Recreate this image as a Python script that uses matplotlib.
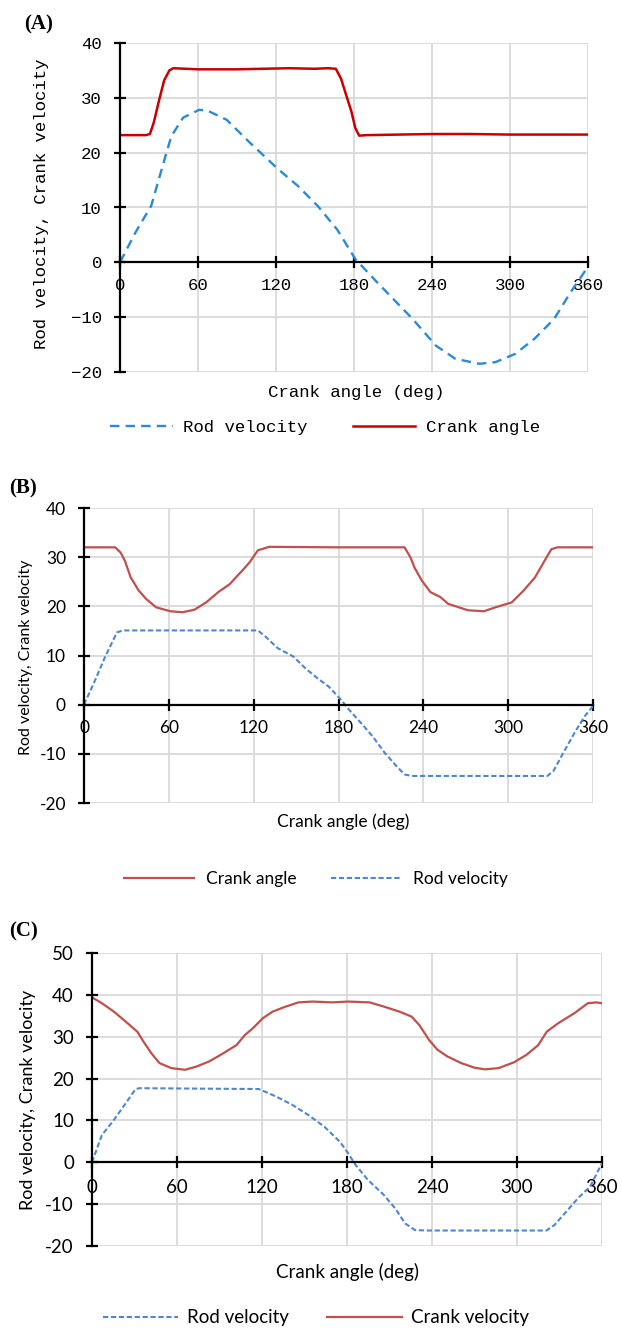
import matplotlib
matplotlib.use("Agg")
import matplotlib.pyplot as plt

# ---- data ----
# (A)
a_rod_deg = [0, 12, 24, 35, 39.5, 48.6, 60.8, 67, 82, 100, 121.6, 137, 152, 167, 181,
             197.6, 225, 243, 258, 276.6, 288.8, 304, 319, 334, 346.5, 360]
a_rod_val = [0, 5.5, 10.3, 19.4, 23, 26.4, 27.8, 27.7, 26, 21.8, 17, 13.9, 10.3, 6, 0.6,
             -3.6, -10.3, -15.2, -17.6, -18.5, -18.2, -16.7, -13.9, -10.3, -5.5, -0.8]
a_crank_deg = [0, 10, 20, 23, 26, 30, 34, 38, 41, 60, 90, 110, 130, 150, 160, 166,
               170, 174, 178, 181, 184, 190, 240, 270, 300, 330, 360]
a_crank_val = [23.2, 23.2, 23.2, 23.4, 25.5, 29.5, 33.2, 35.0, 35.4, 35.2, 35.2, 35.3,
               35.4, 35.3, 35.4, 35.3, 33.5, 30.5, 27.5, 24.5, 23.1, 23.2, 23.4, 23.4,
               23.3, 23.3, 23.3]

# (B)
b_crank_deg = [0, 22, 26, 29, 33, 38.7, 44, 51, 61, 69.6, 78, 86.4, 95, 103, 111.7, 117,
               123, 131, 180, 226.7, 231, 233.7, 239, 245, 252, 257.6, 271.6, 282.8,
               291, 302.5, 310.9, 319, 325, 330.5, 334.7, 360]
b_crank_val = [32, 32, 30.9, 29.2, 25.9, 23.2, 21.5, 19.8, 19, 18.8, 19.3, 20.8, 22.9,
               24.5, 27.2, 28.9, 31.4, 32.1, 32, 32, 29.9, 27.9, 25.2, 22.9, 21.9, 20.5,
               19.2, 19, 19.8, 20.8, 23.2, 25.9, 28.9, 31.6, 32, 32]
b_rod_deg = [0, 7.9, 14.9, 23.3, 27.5, 123, 128.5, 137, 148, 156.6, 165, 173, 181.8,
             187.4, 195.8, 204, 212.7, 221, 226.7, 232, 327.7, 332, 339, 347, 354, 360]
b_rod_val = [0, 5, 9.7, 14.7, 15.1, 15.1, 13.8, 11.5, 9.8, 7.4, 5.4, 3.7, 1, -1, -3.7,
             -6.4, -9.8, -12.5, -14.2, -14.5, -14.5, -13.5, -9.8, -5.7, -2.4, -0.3]

# (C)
c_crank_deg = [0, 7, 15.4, 23.8, 32, 36.4, 42, 47.6, 56, 65.8, 74, 82.7, 91, 102, 107.9,
               113.5, 120.5, 127.5, 135.9, 145.7, 155.5, 169.5, 180.7, 196, 206, 217,
               225.6, 231, 238, 243.8, 250.8, 260.6, 270, 277.4, 287, 298, 306.8, 315,
               321, 329, 340.4, 350, 356, 360]
c_crank_val = [39.4, 38, 36, 33.6, 31.2, 28.8, 26, 23.7, 22.5, 22.1, 22.9, 24.1, 25.7,
               28, 30.4, 32, 34.4, 36, 37.1, 38.2, 38.4, 38.2, 38.4, 38.2, 37.2, 36,
               34.8, 32.8, 29.2, 26.9, 25.3, 23.7, 22.6, 22.2, 22.5, 23.9, 25.7, 28,
               31.2, 33.2, 35.6, 38, 38.2, 38]
c_rod_deg = [0, 7, 15.4, 23.8, 30.8, 33.6, 117.7, 120.5, 130, 141.5, 152.7, 164, 175,
             180.7, 186, 194.7, 206, 214, 221, 228, 236.8, 320.8, 326.4, 334.8, 343,
             351.6, 360]
c_rod_val = [0, 6.5, 10.1, 14.1, 17.5, 17.7, 17.5, 17.1, 15.7, 13.7, 11.3, 8.5, 4.9,
             2.2, -0.6, -4.2, -7.8, -11, -14.6, -16.2, -16.3, -16.3, -15, -11.8, -8.6,
             -5.8, -0.2]

x_ticks = [0, 60, 120, 180, 240, 300, 360]
yticks_ab = [-20, -10, 0, 10, 20, 30, 40]
yticks_c = [-20, -10, 0, 10, 20, 30, 40, 50]

W, H = 622, 1330
fig = plt.figure(figsize=(W / 100, H / 100), dpi=100, facecolor="white")

MONO = "Liberation Mono"
SANS = "Lato"
SERIF = "Liberation Serif"


def add_px_axes(l, t, r, b):
    return fig.add_axes([l / W, 1 - b / H, (r - l) / W, (b - t) / H])


def style_axes(ax, yticks, font, fsize, xpad, ypad, minus):
    ax.set_xlim(0, 360)
    ax.set_ylim(yticks[0], yticks[-1])
    ax.set_xticks(x_ticks)
    ax.set_yticks(yticks)
    ax.set_yticklabels([str(v).replace("-", minus) for v in yticks])
    ax.grid(True, color="#d9d9d9", lw=1.3, zorder=0)
    ax.set_axisbelow(True)
    for s in ("top", "right"):
        ax.spines[s].set_visible(False)
    ax.spines["left"].set_linewidth(1.6)
    ax.spines["bottom"].set_linewidth(1.6)
    ax.spines["bottom"].set_position(("data", 0))
    ax.tick_params(axis="both", direction="inout", length=8, width=1.6, colors="black")
    ax.tick_params(axis="x", pad=xpad)
    ax.tick_params(axis="y", pad=ypad)
    for lab in ax.get_xticklabels() + ax.get_yticklabels():
        lab.set_fontfamily(font)
        lab.set_fontsize(fsize)


def ftext(x, y, s, **kw):
    fig.text(x / W, 1 - y / H, s, **kw)


# ---- (A) ----
axA = add_px_axes(120, 43, 588, 372)
rodA, = axA.plot(a_rod_deg, a_rod_val, color="#2A8AD4", lw=1.7, dashes=(4, 2.6))
crankA, = axA.plot(a_crank_deg, a_crank_val, color="#C80000", lw=1.8)
style_axes(axA, yticks_ab, MONO, 12.5, 7, 9, "\u2212")
ftext(24, 24, "(A)", family=SERIF, fontweight="bold", fontsize=15, va="center")
ftext(42, 204, "Rod velocity, Crank velocity", family=MONO, fontsize=12.5,
      rotation=90, ha="center", va="center")
ftext(356, 392, "Crank angle (deg)", family=MONO, fontsize=12.5, ha="center", va="center")
fig.legend([rodA, crankA], ["Rod velocity", "Crank angle"], loc="center",
           bbox_to_anchor=(325 / W, 1 - 427 / H), ncol=2, frameon=False,
           handlelength=3.6, handletextpad=0.6, columnspacing=2.6,
           prop={"family": MONO, "size": 12.5})

# ---- (B) ----
axB = add_px_axes(84, 508, 593, 803)
crankB, = axB.plot(b_crank_deg, b_crank_val, color="#C0504D", lw=1.6)
rodB, = axB.plot(b_rod_deg, b_rod_val, color="#4F86CF", lw=1.5, dashes=(2.5, 1.3))
style_axes(axB, yticks_ab, SANS, 12.5, 7, 9, "-")
ftext(9, 488, "(B)", family=SERIF, fontweight="bold", fontsize=15, va="center")
ftext(26, 657, "Rod velocity, Crank velocity", family=SANS, fontsize=11.5,
      rotation=90, ha="center", va="center")
ftext(343, 822, "Crank angle (deg)", family=SANS, fontsize=12.5, ha="center", va="center")
fig.legend([crankB, rodB], ["Crank angle", "Rod velocity"], loc="center",
           bbox_to_anchor=(316 / W, 1 - 879 / H), ncol=2, frameon=False,
           handlelength=4.0, handletextpad=0.7, columnspacing=2.0,
           prop={"family": SANS, "size": 12.5})

# ---- (C) ----
axC = add_px_axes(92, 953, 602, 1246)
rodC, = axC.plot(c_rod_deg, c_rod_val, color="#4F86CF", lw=1.5, dashes=(2.5, 1.3))
crankC, = axC.plot(c_crank_deg, c_crank_val, color="#C0504D", lw=1.6)
style_axes(axC, yticks_c, SANS, 13.5, 8, 9, "-")
ftext(9, 931, "(C)", family=SERIF, fontweight="bold", fontsize=15, va="center")
ftext(28, 1100, "Rod velocity, Crank velocity", family=SANS, fontsize=13,
      rotation=90, ha="center", va="center")
ftext(348, 1272, "Crank angle (deg)", family=SANS, fontsize=13.5, ha="center", va="center")
fig.legend([rodC, crankC], ["Rod velocity", "Crank velocity"], loc="center",
           bbox_to_anchor=(316 / W, 1 - 1318 / H), ncol=2, frameon=False,
           handlelength=4.0, handletextpad=0.5, columnspacing=2.0,
           prop={"family": SANS, "size": 13.5})

fig.savefig("out.png", dpi=100, facecolor="white")
